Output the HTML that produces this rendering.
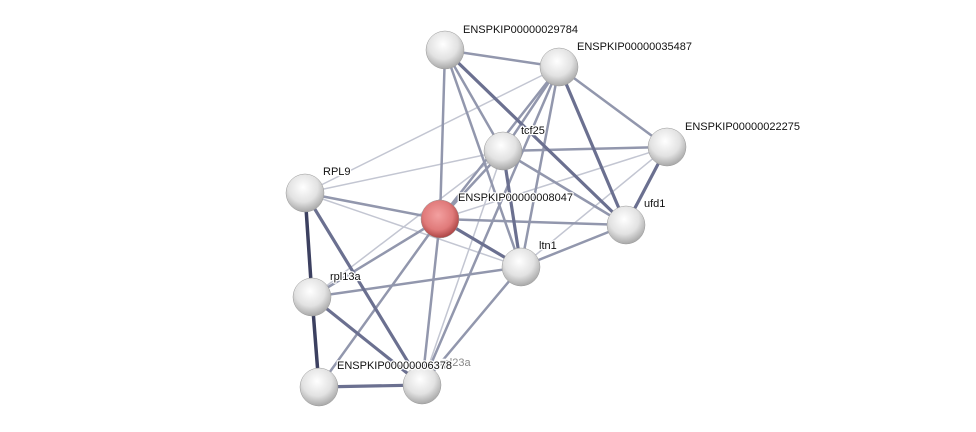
<!DOCTYPE html>
<html><head><meta charset="utf-8"><style>
html,body{margin:0;padding:0;background:#fff;}
svg{display:block}
text{font-family:"Liberation Sans",sans-serif;font-size:11px;fill:#111;paint-order:stroke;stroke:#fff;stroke-width:2.5px;stroke-linejoin:round;}
</style></head><body>
<svg width="976" height="432" viewBox="0 0 976 432" xmlns="http://www.w3.org/2000/svg">
<defs>
<radialGradient id="g" cx="45%" cy="35%" r="65%">
<stop offset="0" stop-color="#ffffff"/><stop offset="0.6" stop-color="#e2e2e2"/><stop offset="1" stop-color="#a8a8a8"/>
</radialGradient>
<radialGradient id="r" cx="45%" cy="40%" r="65%">
<stop offset="0" stop-color="#f3a0a0"/><stop offset="0.6" stop-color="#e07a7a"/><stop offset="1" stop-color="#a03838"/>
</radialGradient>
</defs>
<g stroke-linecap="round">
<g stroke="#c3c6d2" stroke-width="1.5">
<line x1="305" y1="193" x2="503" y2="151"/>
<line x1="305" y1="193" x2="559" y2="67"/>
<line x1="305" y1="193" x2="521" y2="267"/>
<line x1="312" y1="297" x2="503" y2="151"/>
<line x1="422" y1="385" x2="503" y2="151"/>
<line x1="521" y1="267" x2="667" y2="147"/>
<line x1="440" y1="219" x2="667" y2="147"/>
</g>
<g stroke="#9297ad" stroke-width="2.5">
<line x1="445" y1="50" x2="559" y2="67"/>
<line x1="445" y1="50" x2="503" y2="151"/>
<line x1="445" y1="50" x2="521" y2="267"/>
<line x1="445" y1="50" x2="440" y2="219"/>
<line x1="559" y1="67" x2="503" y2="151"/>
<line x1="559" y1="67" x2="440" y2="219"/>
<line x1="559" y1="67" x2="667" y2="147"/>
<line x1="559" y1="67" x2="521" y2="267"/>
<line x1="503" y1="151" x2="667" y2="147"/>
<line x1="503" y1="151" x2="626" y2="225"/>
<line x1="503" y1="151" x2="440" y2="219"/>
<line x1="440" y1="219" x2="626" y2="225"/>
<line x1="440" y1="219" x2="305" y2="193"/>
<line x1="440" y1="219" x2="312" y2="297"/>
<line x1="440" y1="219" x2="319" y2="387"/>
<line x1="440" y1="219" x2="422" y2="385"/>
<line x1="312" y1="297" x2="521" y2="267"/>
<line x1="521" y1="267" x2="626" y2="225"/>
<line x1="521" y1="267" x2="422" y2="385"/>
<line x1="559" y1="67" x2="422" y2="385"/>
</g>
<g stroke="#6b7090" stroke-width="3.2">
<line x1="445" y1="50" x2="626" y2="225"/>
<line x1="559" y1="67" x2="626" y2="225"/>
<line x1="503" y1="151" x2="521" y2="267"/>
<line x1="667" y1="147" x2="626" y2="225"/>
<line x1="440" y1="219" x2="521" y2="267"/>
<line x1="305" y1="193" x2="422" y2="385"/>
<line x1="312" y1="297" x2="422" y2="385"/>
<line x1="319" y1="387" x2="422" y2="385"/>
</g>
<g stroke="#3c4060" stroke-width="3.5">
<line x1="305" y1="193" x2="312" y2="297"/>
<line x1="312" y1="297" x2="319" y2="387"/>
</g>
</g>
<g stroke="#999" stroke-width="0.5">
<circle cx="445" cy="50" r="19" fill="url(#g)"/>
<circle cx="559" cy="67" r="19" fill="url(#g)"/>
<circle cx="667" cy="147" r="19" fill="url(#g)"/>
<circle cx="503" cy="151" r="19" fill="url(#g)"/>
<circle cx="305" cy="193" r="19" fill="url(#g)"/>
<circle cx="626" cy="225" r="19" fill="url(#g)"/>
<circle cx="521" cy="267" r="19" fill="url(#g)"/>
<circle cx="312" cy="297" r="19" fill="url(#g)"/>
<circle cx="319" cy="387" r="19" fill="url(#g)"/>
<circle cx="422" cy="385" r="19" fill="url(#g)"/>
<circle cx="440" cy="219" r="19" fill="url(#r)"/>
</g>
<text x="463" y="33">ENSPKIP00000029784</text>
<text x="577" y="50">ENSPKIP00000035487</text>
<text x="685" y="130">ENSPKIP00000022275</text>
<text x="521" y="134">tcf25</text>
<text x="323" y="175">RPL9</text>
<text x="458" y="201">ENSPKIP00000008047</text>
<text x="644" y="207">ufd1</text>
<text x="539" y="249">ltn1</text>
<text x="330" y="280">rpl13a</text>
<text x="440" y="366" style="fill:#888">rpl23a</text>
<text x="337" y="369">ENSPKIP00000006378</text>
</svg>
</body></html>
